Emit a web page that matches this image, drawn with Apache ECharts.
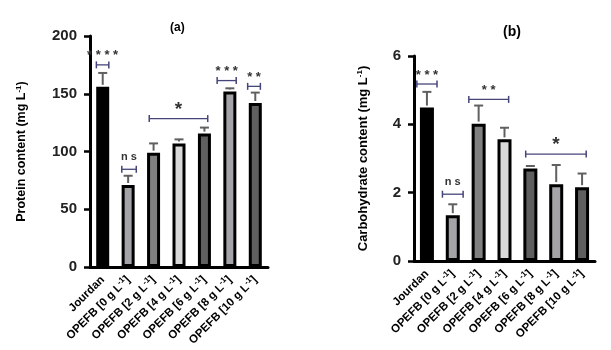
<!DOCTYPE html>
<html>
<head>
<meta charset="utf-8">
<script src="https://cdn.jsdelivr.net/npm/echarts@6/dist/echarts.min.js"></script>
<style>
  html, body { margin: 0; padding: 0; background: #fff; }
  #chart { width: 611px; height: 350px; }
</style>
</head>
<body>
<div id="chart"></div>
<script>
var categories = ['Jourdan', 'OPEFB [0 g L{s|-1}]', 'OPEFB [2 g L{s|-1}]', 'OPEFB [4 g L{s|-1}]',
                  'OPEFB [6 g L{s|-1}]', 'OPEFB [8 g L{s|-1}]', 'OPEFB [10 g L{s|-1}]'];
var barColors = ['#000000', '#a3a3a8', '#808080', '#d9d9d9', '#5f5f5f', '#a3a3a8', '#5f5f5f'];

var proteinMean = [156, 71, 99, 107, 115.5, 152, 142];
var proteinSD = [12, 8, 8, 3.5, 5.2, 2.7, 9];
var carbMean = [4.49, 1.34, 4.02, 3.56, 2.71, 2.25, 2.16];
var carbSD = [0.46, 0.32, 0.53, 0.34, 0.07, 0.56, 0.40];

// significance brackets: from, to (in bar units), height, label
var proteinSig = [[-0.25, 0.24, 175, '* * * *'], [0.75, 1.32, 84.6, 'n s'], [1.83, 4.13, 128.5, '*'],
                  [4.5, 5.25, 161.4, '* * *'], [5.7, 6.2, 156.4, '* *']];
var carbSig = [[-0.39, 0.39, 5.18, '* * *'], [0.6, 1.4, 1.955, 'n s'], [1.62, 3.16, 4.73, '* *'],
               [3.82, 6.16, 3.13, '*']];

var chart = echarts.init(document.getElementById('chart'));

function barData(vals) {
  return vals.map(function (v, i) {
    return { value: v, itemStyle: { color: barColors[i] } };
  });
}

function errData(mean, sd) {
  return mean.map(function (m, i) { return [i, m + sd[i], m]; });
}

function errRender(params, api) {
  var top = api.coord([api.value(0), api.value(1)]);
  var bot = api.coord([api.value(0), api.value(2)]);
  var w = 4.5;
  return {
    type: 'group',
    children: [
      { type: 'line', shape: { x1: top[0], y1: top[1], x2: bot[0], y2: bot[1] - 2 },
        style: { stroke: '#606060', lineWidth: 2 } },
      { type: 'line', shape: { x1: top[0] - w, y1: top[1], x2: top[0] + w, y2: top[1] },
        style: { stroke: '#606060', lineWidth: 2 } }
    ]
  };
}

function sigData(sig) {
  return sig.map(function (s) { return [0, s[2], s[0], s[1]]; });
}

function sigRender(sig) {
  return function (params, api) {
    var base = api.coord([0, api.value(1)]);
    var bw = api.size([1, 0])[0];
    var x1 = base[0] + api.value(2) * bw;
    var x2 = base[0] + api.value(3) * bw;
    var y = base[1];
    var lab = sig[params.dataIndex][3];
    var big = lab === '*';
    var ns = lab === 'n s';
    return {
      type: 'group',
      children: [
        { type: 'line', shape: { x1: x1, y1: y, x2: x2, y2: y }, style: { stroke: '#45457a', lineWidth: 1.3 } },
        { type: 'line', shape: { x1: x1, y1: y - 3.5, x2: x1, y2: y + 3.5 }, style: { stroke: '#45457a', lineWidth: 1.5 } },
        { type: 'line', shape: { x1: x2, y1: y - 3.5, x2: x2, y2: y + 3.5 }, style: { stroke: '#45457a', lineWidth: 1.5 } },
        { type: 'text', x: (x1 + x2) / 2, y: y - (big ? 9 : (ns ? 12 : 9)),
          style: { text: lab, fill: '#333',
                   font: (big ? 'bold 19px' : (ns ? 'bold 11px' : 'bold 13px')) + ' "Liberation Sans", Arial',
                   align: 'center', verticalAlign: 'middle' } }
      ]
    };
  };
}

var labelRich = { s: { fontSize: 8, fontWeight: 'bold', verticalAlign: 'top', padding: [0, 0, 6, 0], color: '#000' } };

function xAxisCfg(gi) {
  return {
    type: 'category', gridIndex: gi, data: categories,
    axisLine: { lineStyle: { color: '#000', width: 3 } },
    axisTick: { alignWithLabel: true, length: 7, lineStyle: { color: '#000', width: 3 } },
    axisLabel: { interval: 0, rotate: 45, margin: 11, fontSize: 11.5, fontWeight: 'bold', color: '#000',
                 fontFamily: '"Liberation Sans", Arial', rich: labelRich }
  };
}

function yAxisCfg(gi, name, max, interval, gap, nameSize) {
  return {
    type: 'value', gridIndex: gi, min: 0, max: max, interval: interval,
    name: name, nameLocation: 'middle', nameGap: gap,
    nameTextStyle: { fontSize: nameSize, fontWeight: 'bold', color: '#000', fontFamily: '"Liberation Sans", Arial',
                     rich: { s: { fontSize: 8, fontWeight: 'bold', color: '#000', verticalAlign: 'top', padding: [0, 0, 6, 0] } } },
    axisLine: { show: true, lineStyle: { color: '#000', width: 3 } },
    axisTick: { show: true, length: 6, lineStyle: { color: '#000', width: 2.5 } },
    axisLabel: { fontSize: 15, fontWeight: 'bold', color: '#222', margin: 13, fontFamily: '"Liberation Sans", Arial' },
    splitLine: { show: false }
  };
}

chart.setOption({
  animation: false,
  backgroundColor: '#fff',
  title: [
    { text: '(a)', left: 165, top: 17,
      textStyle: { fontSize: 12, fontWeight: 'bold', color: '#000', fontFamily: '"Liberation Sans", Arial' } },
    { text: '(b)', left: 498, top: 20,
      textStyle: { fontSize: 14, fontWeight: 'bold', color: '#000', fontFamily: '"Liberation Sans", Arial' } }
  ],
  grid: [
    { left: 90, top: 36, width: 178, height: 231 },
    { left: 414, top: 56, width: 181, height: 205 }
  ],
  xAxis: [xAxisCfg(0), xAxisCfg(1)],
  yAxis: [
    yAxisCfg(0, 'Protein content (mg L{s|-1})', 200, 50, 61, 12.5),
    yAxisCfg(1, 'Carbohydrate content (mg L{s|-1})', 6, 2, 44, 13)
  ],
  series: [
    { type: 'bar', xAxisIndex: 0, yAxisIndex: 0, barWidth: 13, data: barData(proteinMean),
      itemStyle: { borderColor: '#000', borderWidth: 3 } },
    { type: 'custom', xAxisIndex: 0, yAxisIndex: 0, data: errData(proteinMean, proteinSD),
      encode: { x: 0, y: 1 }, renderItem: errRender, z: 3 },
    { type: 'custom', xAxisIndex: 0, yAxisIndex: 0, data: sigData(proteinSig),
      encode: { x: 0, y: 1 }, renderItem: sigRender(proteinSig), z: 4, clip: false },
    { type: 'bar', xAxisIndex: 1, yAxisIndex: 1, barWidth: 14, data: barData(carbMean),
      itemStyle: { borderColor: '#000', borderWidth: 3 } },
    { type: 'custom', xAxisIndex: 1, yAxisIndex: 1, data: errData(carbMean, carbSD),
      encode: { x: 0, y: 1 }, renderItem: errRender, z: 3 },
    { type: 'custom', xAxisIndex: 1, yAxisIndex: 1, data: sigData(carbSig),
      encode: { x: 0, y: 1 }, renderItem: sigRender(carbSig), z: 4, clip: false }
  ]
});
</script>
</body>
</html>
